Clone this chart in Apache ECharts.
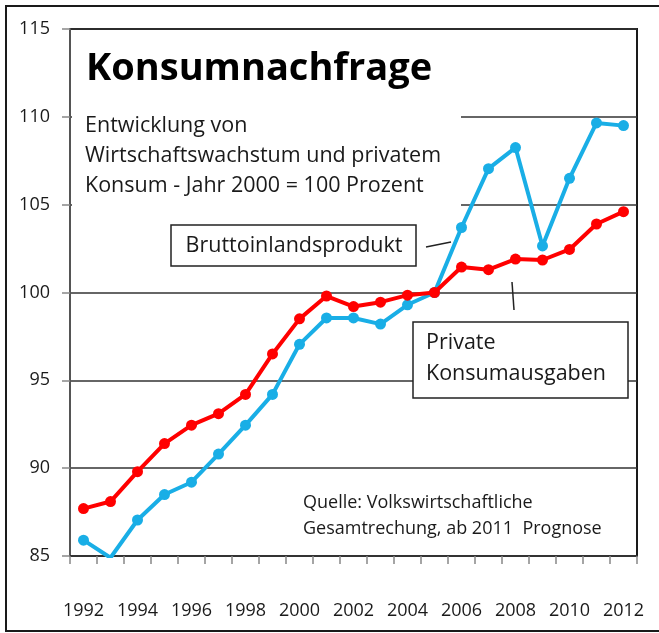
<!DOCTYPE html>
<html>
<head>
<meta charset="utf-8">
<script src="https://cdn.jsdelivr.net/npm/echarts@6/dist/echarts.min.js"></script>
<style>
  html, body { margin: 0; padding: 0; background: #fff; }
  #chart { width: 659px; height: 633px; }
</style>
</head>
<body>
<div id="chart"></div>
<script>
// Jahre (Kategorien)
const years = ['1992', '1993', '1994', '1995', '1996', '1997', '1998', '1999', '2000', '2001', '2002',
    '2003', '2004', '2005', '2006', '2007', '2008', '2009', '2010', '2011', '2012'];

// Bruttoinlandsprodukt, 2000 = 100
const bip = [85.9, 84.9, 87.05, 88.5, 89.2, 90.8, 92.45, 94.2, 97.05, 98.55, 98.55,
    98.2, 99.3, 100.0, 103.7, 107.05, 108.25, 102.65, 106.5, 109.65, 109.5];

// Private Konsumausgaben, 2000 = 100
const konsum = [87.7, 88.1, 89.8, 91.4, 92.45, 93.1, 94.2, 96.5, 98.5, 99.8, 99.2,
    99.45, 99.85, 100.0, 101.45, 101.3, 101.9, 101.85, 102.45, 103.9, 104.6];

// Achsenbeschriftung
const yMin = 85;
const yMax = 115;
const yStep = 5;

const fontFam = '"Open Sans", "Noto Sans", sans-serif';

const myChart = echarts.init(document.getElementById('chart'));

const option = {
    backgroundColor: '#fff',
    animation: false,
    grid: {
        left: 70,
        top: 29,
        right: 22,
        bottom: 77,
        show: true,
        borderColor: '#1a1a1a',
        borderWidth: 2,
        backgroundColor: 'transparent'
    },
    xAxis: {
        type: 'category',
        data: years,
        boundaryGap: true,
        axisLine: { lineStyle: { color: '#333', width: 2 } },
        axisTick: { show: true, interval: 0, length: 8, lineStyle: { color: '#888', width: 1.5 } },
        axisLabel: { interval: 1, margin: 46, fontSize: 18, color: '#1a1a1a', fontFamily: fontFam },
        splitLine: { show: false }
    },
    yAxis: {
        type: 'value',
        min: yMin,
        max: yMax,
        interval: yStep,
        axisLine: { show: true, lineStyle: { color: '#555', width: 2 } },
        axisTick: { show: true, length: 8, lineStyle: { color: '#888', width: 1.5 } },
        axisLabel: { margin: 20, fontSize: 18, color: '#1a1a1a', fontFamily: fontFam },
        splitLine: { show: true, lineStyle: { color: '#333', width: 1.5 } }
    },
    series: [
        {
            name: 'Bruttoinlandsprodukt',
            type: 'line',
            data: bip,
            symbol: 'circle',
            symbolSize: 11,
            clip: true,
            itemStyle: { color: '#19aee6' },
            lineStyle: { color: '#19aee6', width: 4 },
            z: 3
        },
        {
            name: 'Private Konsumausgaben',
            type: 'line',
            data: konsum,
            symbol: 'circle',
            symbolSize: 11,
            clip: true,
            itemStyle: { color: '#ff0000' },
            lineStyle: { color: '#ff0000', width: 4 },
            z: 4
        }
    ],
    graphic: [
        // äußerer Rahmen
        { type: 'rect', z: 0, silent: true,
          shape: { x: 6, y: 6, width: 700, height: 625 },
          style: { fill: null, stroke: '#1a1a1a', lineWidth: 2 } },
        // Textfeld oben links verdeckt die Gitterlinien
        { type: 'rect', z: 1, silent: true,
          shape: { x: 72, y: 100, width: 389, height: 115 },
          style: { fill: '#fff' } },
        { type: 'text', z: 5, silent: true,
          style: { x: 86, y: 69, text: 'Konsumnachfrage', font: 'bold 38px ' + fontFam,
                   fill: '#000', verticalAlign: 'middle' } },
        { type: 'text', z: 5, silent: true,
          style: { x: 85, y: 126, text: 'Entwicklung von', font: '21.5px ' + fontFam,
                   fill: '#1a1a1a', verticalAlign: 'middle' } },
        { type: 'text', z: 5, silent: true,
          style: { x: 85, y: 156, text: 'Wirtschaftswachstum und privatem', font: '21.5px ' + fontFam,
                   fill: '#1a1a1a', verticalAlign: 'middle' } },
        { type: 'text', z: 5, silent: true,
          style: { x: 85, y: 186, text: 'Konsum - Jahr 2000 = 100 Prozent', font: '21.5px ' + fontFam,
                   fill: '#1a1a1a', verticalAlign: 'middle' } },
        // Beschriftung BIP
        { type: 'rect', z: 5, silent: true,
          shape: { x: 171, y: 225, width: 245, height: 41 },
          style: { fill: '#fff', stroke: '#222', lineWidth: 1.5 } },
        { type: 'text', z: 6, silent: true,
          style: { x: 294, y: 246, text: 'Bruttoinlandsprodukt', font: '21.5px ' + fontFam,
                   fill: '#1a1a1a', align: 'center', verticalAlign: 'middle' } },
        { type: 'line', z: 5, silent: true,
          shape: { x1: 426, y1: 247, x2: 451, y2: 242 },
          style: { stroke: '#222', lineWidth: 1.5 } },
        // Beschriftung Konsum
        { type: 'rect', z: 5, silent: true,
          shape: { x: 413, y: 322, width: 215, height: 76 },
          style: { fill: '#fff', stroke: '#222', lineWidth: 1.5 } },
        { type: 'text', z: 6, silent: true,
          style: { x: 426, y: 343, text: 'Private', font: '21.5px ' + fontFam,
                   fill: '#1a1a1a', verticalAlign: 'middle' } },
        { type: 'text', z: 6, silent: true,
          style: { x: 426, y: 374, text: 'Konsumausgaben', font: '21.5px ' + fontFam,
                   fill: '#1a1a1a', verticalAlign: 'middle' } },
        { type: 'line', z: 5, silent: true,
          shape: { x1: 512, y1: 282, x2: 514, y2: 310 },
          style: { stroke: '#222', lineWidth: 1.5 } },
        // Quelle
        { type: 'text', z: 5, silent: true,
          style: { x: 303, y: 503, text: 'Quelle: Volkswirtschaftliche', font: '18px ' + fontFam,
                   fill: '#1a1a1a', verticalAlign: 'middle' } },
        { type: 'text', z: 5, silent: true,
          style: { x: 303, y: 529, text: 'Gesamtrechung, ab 2011  Prognose', font: '18px ' + fontFam,
                   fill: '#1a1a1a', verticalAlign: 'middle' } }
    ]
};

myChart.setOption(option);
</script>
</body>
</html>
